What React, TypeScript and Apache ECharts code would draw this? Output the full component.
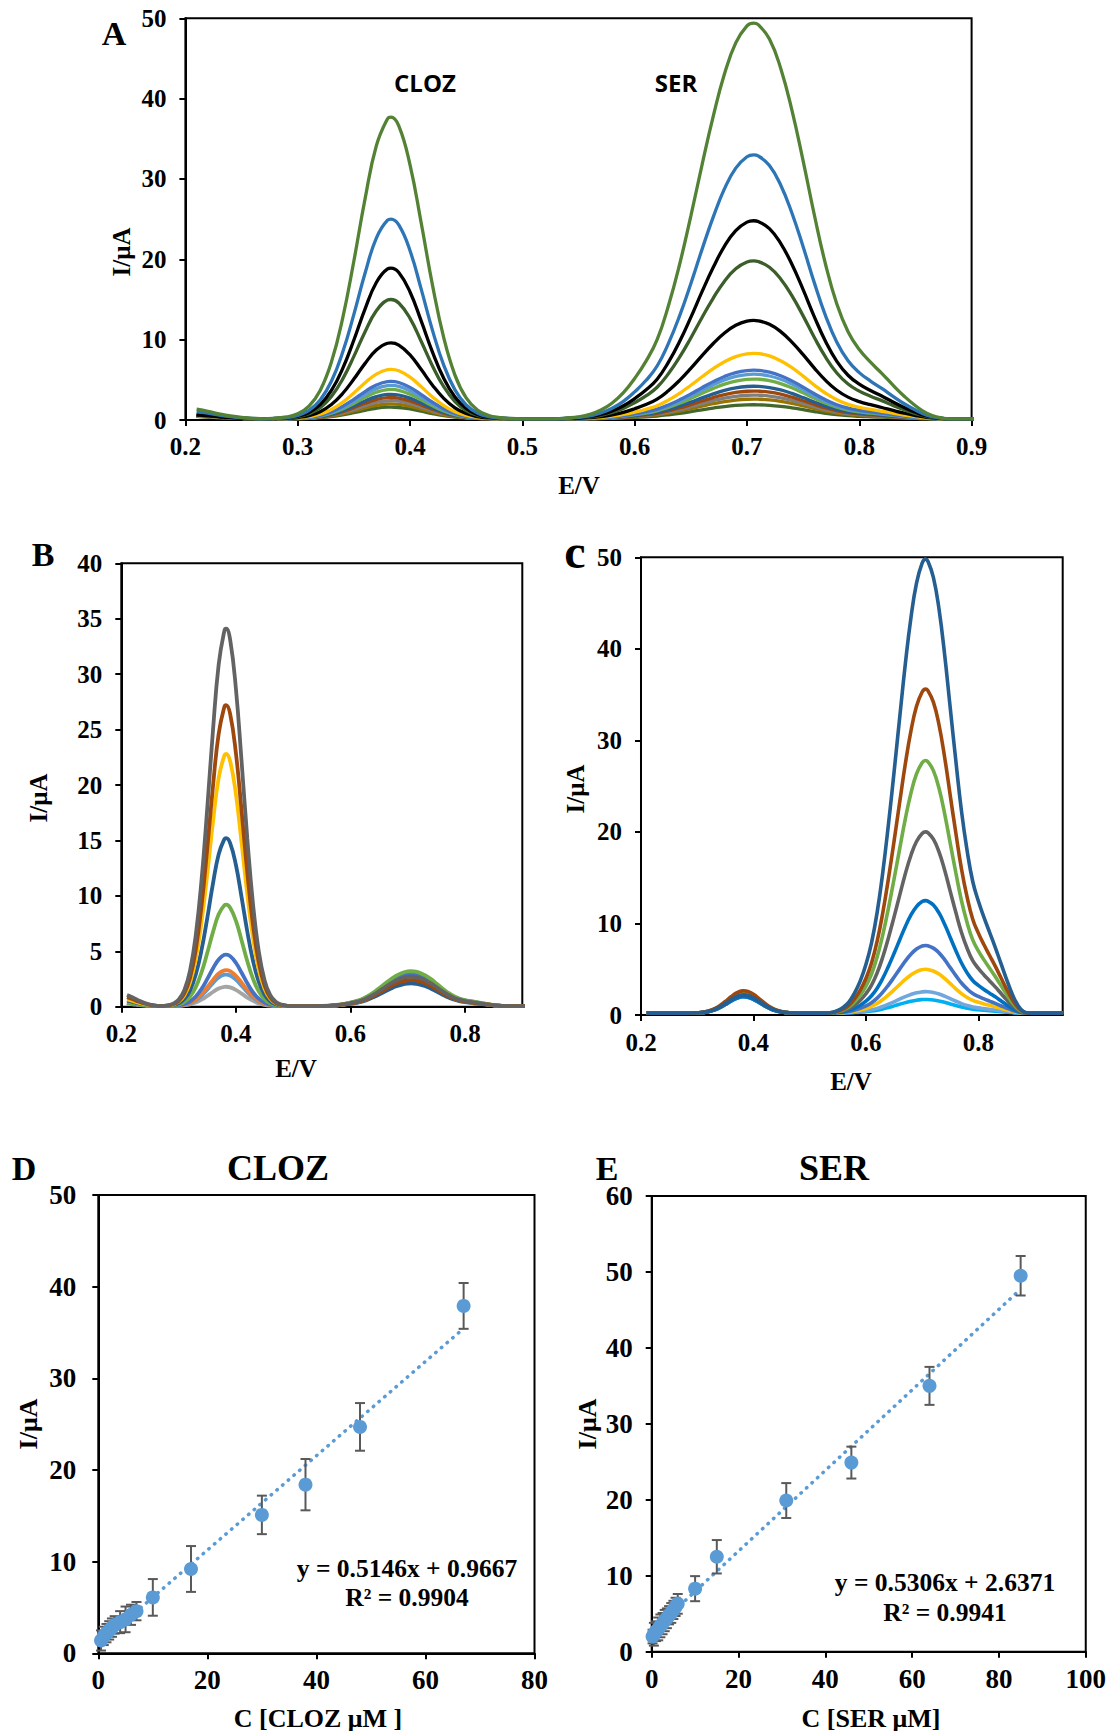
import React, { useEffect, useRef } from "react";
import * as echarts from "echarts";

// ---------- Voltammogram sampling grid (E / V); peak potentials included ----------
const POTENTIAL = [
  0.21, 0.22, 0.23, 0.24, 0.25, 0.26, 0.27, 0.28, 0.29, 0.3, 0.31, 0.32, 0.33, 0.34, 0.35,
  0.36, 0.37, 0.38, 0.383, 0.39, 0.4, 0.41, 0.42, 0.43, 0.44, 0.45, 0.46, 0.47, 0.48, 0.49, 0.5,
  0.51, 0.52, 0.53, 0.54, 0.55, 0.56, 0.57, 0.58, 0.59, 0.6, 0.61, 0.62, 0.63, 0.64, 0.65,
  0.66, 0.67, 0.68, 0.69, 0.7, 0.706, 0.71, 0.72, 0.73, 0.74, 0.75, 0.76, 0.77, 0.78, 0.79, 0.8,
  0.81, 0.82, 0.83, 0.84, 0.85, 0.86, 0.87, 0.88, 0.89, 0.9, 0.91, 0.92, 0.93, 0.94, 0.95,
];

// Normalised peak profiles (fraction of peak height)
type Shape = { from: number; values: number[] };
const START_SHAPE: Shape = { from: 0.21, values: [1, 0.78, 0.52, 0.3, 0.14, 0.05, 0] };
const CLOZ_SHAPE: Shape = {
  from: 0.28,
  values: [0.002, 0.006, 0.017, 0.042, 0.094, 0.188, 0.333, 0.523, 0.73, 0.905, 0.995, 1, 0.971,
    0.842, 0.648, 0.443, 0.269, 0.145, 0.069, 0.029, 0.011, 0.004, 0.001],
};
const SER_SHAPE: Shape = {
  from: 0.54,
  values: [0.002, 0.005, 0.011, 0.022, 0.04, 0.066, 0.102, 0.145, 0.2, 0.285, 0.39, 0.512, 0.642,
    0.765, 0.872, 0.95, 0.993, 1, 0.996, 0.96, 0.886, 0.78, 0.652, 0.515, 0.39, 0.29, 0.22,
    0.175, 0.143, 0.115, 0.085, 0.057, 0.033, 0.014, 0.004],
};
const SER_SHAPE_C: Shape = {
  from: 0.54,
  values: [0.002, 0.006, 0.013, 0.025, 0.045, 0.071, 0.107, 0.155, 0.222, 0.31, 0.415, 0.53, 0.65,
    0.768, 0.87, 0.947, 0.991, 1, 0.996, 0.96, 0.89, 0.79, 0.672, 0.555, 0.445, 0.358, 0.29, 0.247,
    0.211, 0.178, 0.145, 0.11, 0.075, 0.043, 0.018, 0.004],
};

// ---------- Panel A: simultaneous additions (peak currents, µA) ----------
const A_COLORS = ["#548235", "#2E75B6", "#000000", "#3B5E2B", "#000000", "#FFC000", "#4472C4",
  "#5B9BD5", "#70AD47", "#255E91", "#9E480E", "#7F7F7F", "#997300", "#43682B"];
const A_CLOZ = [37.7, 25.0, 18.9, 15.0, 9.6, 6.3, 4.8, 4.3, 3.8, 3.2, 2.8, 2.4, 2.0, 1.6];
const A_SER = [49.4, 33.0, 24.8, 19.8, 12.4, 8.3, 6.2, 5.7, 5.1, 4.2, 3.6, 3.1, 2.6, 1.9];
const A_START = [1.2, 0.9, 0.5, 0.5, 0.45, 0.4, 0.4, 0.4, 0.4, 0.35, 0.35, 0.35, 0.3, 0.3];
const A_BASE = 0.15;

// ---------- Panel B: CLOZ varied ----------
const B_COLORS = ["#636363", "#9E480E", "#FFC000", "#255E91", "#70AD47", "#4472C4", "#ED7D31",
  "#5B9BD5", "#A5A5A5"];
const B_CLOZ = [34.1, 27.2, 22.8, 15.2, 9.2, 4.7, 3.3, 2.9, 1.8];
const B_SER = [2.7, 2.4, 2.5, 2.1, 3.2, 3.0, 2.6, 2.9, 2.5];
const B_START = [1.0, 0.8, 0.6, 0.5, 0.3, 0.3, 0.3, 0.3, 0.2];
const B_BASE = 0.05;

// ---------- Panel C: SER varied ----------
const C_COLORS = ["#255E91", "#9E480E", "#70AD47", "#636363", "#0070C0", "#4472C4", "#FFC000",
  "#72A7DE", "#00B0F0"];
const C_SER = [49.8, 35.6, 27.8, 20.0, 12.5, 7.6, 5.0, 2.55, 1.7];
const C_CLOZ = [2.2, 2.65, 2.4, 2.4, 2.0, 2.1, 2.1, 2.0, 2.0];
const C_BASE = 0.2;

// ---------- Panel D: CLOZ calibration ----------
const D_CONC = [0.5, 1, 1.5, 2, 2.5, 3, 4, 5, 6, 7, 10, 17, 30, 38, 48, 67];
const D_CURRENT = [1.4, 1.9, 2.2, 2.5, 2.8, 3.1, 3.4, 3.7, 4.2, 4.6, 6.1, 9.2, 15.1, 18.4, 24.7, 37.9];
const D_ERR = [1.1, 1.0, 1.0, 1.0, 1.0, 0.95, 1.2, 1.4, 1.1, 1.0, 2.0, 2.5, 2.1, 2.8, 2.6, 2.5];
const D_SLOPE = 0.5146;
const D_INTERCEPT = 0.9667;

// ---------- Panel E: SER calibration ----------
const E_CONC = [0.2, 0.5, 1, 1.5, 2, 2.5, 3, 3.5, 4, 4.5, 5, 5.5, 6, 10, 15, 31, 46, 64, 85];
const E_CURRENT = [2.0, 2.3, 2.7, 3.0, 3.4, 3.7, 4.1, 4.4, 4.8, 5.1, 5.5, 5.9, 6.3, 8.3, 12.5,
  19.9, 24.9, 35.0, 49.5];
const E_ERR = [0.9, 1.5, 1.3, 1.5, 1.5, 1.4, 1.4, 1.3, 1.2, 1.3, 1.2, 1.2, 1.3, 1.65, 2.2, 2.3,
  2.1, 2.5, 2.6];
const E_SLOPE = 0.5306;
const E_INTERCEPT = 2.6371;

const SERIF = '"Liberation Serif", "Times New Roman", serif';
const SANS = '"Open Sans", "Noto Sans", sans-serif';

const shapeValue = (s: Shape, i: number) => {
  const k = i - POTENTIAL.indexOf(s.from);
  return k >= 0 && k < s.values.length ? s.values[k] : 0;
};

const trace = (base: number, start: number, clozPeak: number, serPeak: number, ser: Shape) =>
  POTENTIAL.map((e, i) => [
    e,
    +(
      base +
      start * shapeValue(START_SHAPE, i) +
      (clozPeak - base) * shapeValue(CLOZ_SHAPE, i) +
      (serPeak - base) * shapeValue(ser, i)
    ).toFixed(3),
  ]);

const curveSeries = (idx: number, colors: string[], data: number[][][], width: number) =>
  data
    .map((d, k) => ({
      type: "line",
      xAxisIndex: idx,
      yAxisIndex: idx,
      data: d,
      smooth: 0.45,
      symbol: "none",
      silent: true,
      lineStyle: { color: colors[k], width },
      z: 2,
    }))
    .reverse();

const errorBars = (idx: number, conc: number[], cur: number[], err: number[]) => ({
  type: "custom",
  xAxisIndex: idx,
  yAxisIndex: idx,
  silent: true,
  z: 3,
  data: conc.map((c, i) => [c, cur[i] - err[i], cur[i] + err[i]]),
  renderItem: (_p: any, api: any) => {
    const lo = api.coord([api.value(0), api.value(1)]);
    const hi = api.coord([api.value(0), api.value(2)]);
    const w = 5;
    const style = { stroke: "#595959", lineWidth: 2 };
    return {
      type: "group",
      children: [
        { type: "line", shape: { x1: hi[0], y1: hi[1], x2: lo[0], y2: lo[1] }, style },
        { type: "line", shape: { x1: hi[0] - w, y1: hi[1], x2: hi[0] + w, y2: hi[1] }, style },
        { type: "line", shape: { x1: lo[0] - w, y1: lo[1], x2: lo[0] + w, y2: lo[1] }, style },
      ],
    };
  },
});

const trendLine = (idx: number, conc: number[], slope: number, intercept: number) => {
  const x0 = Math.min(...conc);
  const x1 = Math.max(...conc);
  return {
    type: "line",
    xAxisIndex: idx,
    yAxisIndex: idx,
    silent: true,
    symbol: "none",
    z: 2,
    data: [
      [x0, slope * x0 + intercept],
      [x1, slope * x1 + intercept],
    ],
    lineStyle: { color: "#5B9BD5", width: 3.5, type: [0.5, 7], cap: "round" },
  };
};

const scatter = (idx: number, conc: number[], cur: number[]) => ({
  type: "scatter",
  xAxisIndex: idx,
  yAxisIndex: idx,
  silent: true,
  symbolSize: 14,
  z: 4,
  itemStyle: { color: "#5B9BD5", opacity: 1 },
  data: conc.map((c, i) => [c, cur[i]]),
});

const axisBase = (fontSize: number, margin: number) => ({
  type: "value",
  axisLine: { show: true, onZero: false, lineStyle: { color: "#000", width: 2 } },
  axisTick: { show: true, inside: false, length: 6, lineStyle: { color: "#000", width: 2 } },
  splitLine: { show: false },
  axisLabel: {
    color: "#000",
    fontFamily: SERIF,
    fontWeight: "bold",
    fontSize,
    margin,
  },
});

const xAx = (grid: number, min: number, max: number, interval: number, fs: number, margin: number, decimals: number) => {
  const a: any = axisBase(fs, margin);
  a.gridIndex = grid;
  a.min = min;
  a.max = max;
  a.interval = interval;
  a.axisLabel.formatter = (v: number) => v.toFixed(decimals);
  a.axisLabel.showMaxLabel = Math.abs((max - min) / interval - Math.round((max - min) / interval)) < 1e-6;
  return a;
};

const yAx = (grid: number, max: number, interval: number, fs: number, margin: number) => {
  const a: any = axisBase(fs, margin);
  a.gridIndex = grid;
  a.min = 0;
  a.max = max;
  a.interval = interval;
  return a;
};

const text = (t: string, x: number, y: number, size: number, rotate = false, family = SERIF) => ({
  type: "text",
  x,
  y,
  rotation: rotate ? Math.PI / 2 : 0,
  silent: true,
  z: 10,
  style: {
    text: t,
    fill: "#000",
    fontFamily: family,
    fontWeight: "bold",
    fontSize: size,
    align: "center",
    verticalAlign: "middle",
  },
});

export default function App() {
  const ref = useRef<HTMLDivElement>(null);

  useEffect(() => {
    if (!ref.current) return;
    const chart = echarts.init(ref.current, undefined, { renderer: "svg" });

    const aData = A_CLOZ.map((c, k) => trace(A_BASE, A_START[k], c, A_SER[k], SER_SHAPE));
    const bData = B_CLOZ.map((c, k) => trace(B_BASE, B_START[k], c, B_SER[k], SER_SHAPE));
    const cData = C_SER.map((s, k) => trace(C_BASE, 0, C_CLOZ[k], s, SER_SHAPE_C));

    const gridStyle = { show: true, borderColor: "#000", borderWidth: 2, backgroundColor: "transparent" };

    const option: any = {
      animation: false,
      grid: [
        { left: 185.4, top: 18.3, width: 786.2, height: 401.7, ...gridStyle },
        { left: 121.3, top: 563.3, width: 401, height: 443.4, ...gridStyle },
        { left: 641, top: 557.3, width: 421.7, height: 457.7, ...gridStyle },
        { left: 98.3, top: 1195, width: 436.2, height: 458.3, ...gridStyle },
        { left: 651.7, top: 1196, width: 436.3, height: 455.7, ...gridStyle },
      ],
      xAxis: [
        xAx(0, 0.2, 0.9, 0.1, 25, 14, 1),
        xAx(1, 0.2, 0.9, 0.2, 25, 14, 1),
        xAx(2, 0.2, 0.95, 0.2, 25, 15, 1),
        xAx(3, 0, 80, 20, 27, 13, 0),
        xAx(4, 0, 100, 20, 27, 14, 0),
      ],
      yAxis: [
        yAx(0, 50, 10, 25, 19),
        yAx(1, 40, 5, 25, 19),
        yAx(2, 50, 10, 25, 19),
        yAx(3, 50, 10, 27, 22),
        yAx(4, 60, 10, 27, 19),
      ],
      series: [
        ...curveSeries(0, A_COLORS, aData, 3.3),
        ...curveSeries(1, B_COLORS, bData, 3.8),
        ...curveSeries(2, C_COLORS, cData, 3.6),
        trendLine(3, D_CONC, D_SLOPE, D_INTERCEPT),
        errorBars(3, D_CONC, D_CURRENT, D_ERR),
        scatter(3, D_CONC, D_CURRENT),
        trendLine(4, E_CONC, E_SLOPE, E_INTERCEPT),
        errorBars(4, E_CONC, E_CURRENT, E_ERR),
        scatter(4, E_CONC, E_CURRENT),
      ],
      graphic: [
        // panel letters
        text("A", 114, 33, 34),
        text("B", 43, 554, 34),
        text("c", 575, 551, 48),
        text("D", 24, 1168, 34),
        text("E", 607, 1168, 34),
        // peak labels in A
        text("CLOZ", 425, 82, 24, false, SANS),
        text("SER", 676, 82, 24, false, SANS),
        // calibration titles
        text("CLOZ", 278, 1168, 36),
        text("SER", 834, 1168, 36),
        // axis titles
        text("E/V", 579, 485, 25),
        text("I/μA", 121, 252, 25, true),
        text("E/V", 296, 1068, 25),
        text("I/μA", 38, 798, 25, true),
        text("E/V", 851, 1081, 25),
        text("I/μA", 575, 789, 25, true),
        text("C [CLOZ μM ]", 318, 1718, 26),
        text("I/μA", 28, 1424, 26, true),
        text("C [SER μM]", 871, 1718, 26),
        text("I/μA", 587, 1424, 26, true),
        // regression equations
        text("y = 0.5146x + 0.9667", 407, 1568, 25.5),
        text("R² = 0.9904", 407, 1597, 25.5),
        text("y = 0.5306x + 2.6371", 945, 1582, 25.5),
        text("R² = 0.9941", 945, 1612, 25.5),
      ],
    };

    chart.setOption(option);
    return () => chart.dispose();
  }, []);

  return (
    <div
      ref={ref}
      style={{ position: "absolute", left: 0, top: 0, width: 1109, height: 1731, background: "#fff" }}
    />
  );
}
